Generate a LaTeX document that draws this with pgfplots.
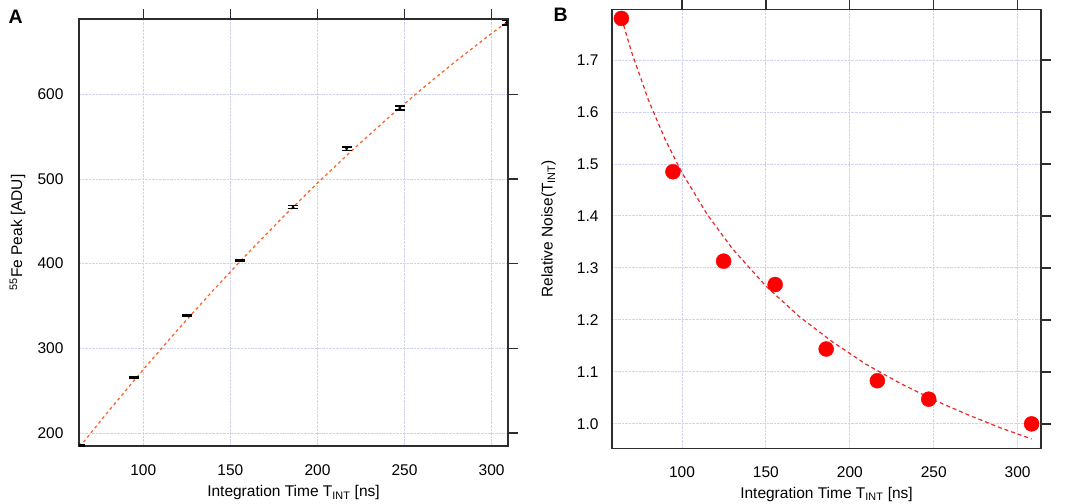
\documentclass[border=0pt]{standalone}
\usepackage{fontspec}
\setmainfont{Liberation Sans}
\usepackage{pgfplots}
\pgfplotsset{compat=1.18}
\usepackage{pgfplotstable}

\definecolor{fitorange}{RGB}{255,100,40}
\definecolor{fitred}{RGB}{235,40,40}
\definecolor{ptred}{RGB}{255,0,0}
\definecolor{gridc}{RGB}{208,208,240}
\definecolor{framec}{RGB}{45,45,45}

\pgfplotstableread{
x y err
63.8 185.5 0.8
94.6 265.3 1.0
125.0 339.0 0.8
155.4 403.5 1.0
186.0 466.7 1.8
216.8 535.8 2.0
247.3 583.8 2.4
308.6 684.7 2.8
}\peakdata

\pgfplotstableread{
x y
63.5 183.7
80 225.7
100 274.9
120 322.4
140 368.2
160 412.3
180 454.6
200 495.2
220 534.0
240 571.1
260 606.5
280 640.1
300 672.0
309 685.7
}\peakfit

\pgfplotstableread{
x y
63.9 1.780
94.6 1.485
124.8 1.313
155.5 1.268
185.9 1.144
216.4 1.083
247.0 1.0475
308.3 1.000
}\noisedata

\pgfplotstableread{
x y
64 1.780
70 1.715
80 1.623
90 1.547
100 1.483
115 1.403
130 1.337
150 1.265
170 1.206
190 1.157
210 1.114
230 1.078
250 1.046
270 1.018
290 0.992
308.3 0.971
}\noisefit

\pgfplotsset{
  panel/.style={
    scale only axis,
    anchor=south west,
    width=429bp,
    axis line style={framec, line width=1.3bp},
    tick style={framec, line width=1.3bp},
    tick align=outside,
    major tick length=10bp,
    xtick pos=upper, xticklabel pos=lower,
    ytick pos=right, yticklabel pos=left,
    grid=major,
    grid style={densely dotted, gridc, line width=0.9bp},
    /pgf/number format/assume math mode=true,
    tick label style={font=\fontsize{15.5bp}{18bp}\selectfont, text=black},
    label style={font=\fontsize{15.5bp}{18bp}\selectfont, text=black},
    xticklabel style={anchor=base, yshift=-19bp},
    xlabel={Integration Time T\textsubscript{INT} [ns]},
    xtick={100,150,200,250,300},
  }
}

\begin{document}
\begin{tikzpicture}
\useasboundingbox (0,0) rectangle (1065bp,-504bp);

% Panel A
\begin{axis}[panel,
  at={(79bp,-446bp)},
  height=427bp,
  xmin=63.1, xmax=309.4,
  ymin=184.6, ymax=689,
  ytick={200,300,400,500,600},
  yticklabel style={anchor=east, xshift=-2bp},
  xlabel style={at={(axis description cs:0.5,0)}, anchor=base, yshift=-50.7bp},
  ylabel={\textsuperscript{55}Fe Peak [ADU]},
  ylabel style={at={(axis description cs:-0.1434,0.5)}, rotate=0, anchor=center},
]
\addplot[fitorange, line width=1.3bp, dash pattern=on 3bp off 3bp] table[x=x,y=y] {\peakfit};
\addplot[black, only marks, mark=*, mark size=1.3bp,
  error bars/.cd, y dir=both, y explicit,
  error bar style={black, solid, line width=1.4bp},
  error mark options={black, mark size=5bp, line width=1.4bp, rotate=90}]
  table[x=x, y=y, y error=err] {\peakdata};
\end{axis}

% Panel B
\begin{axis}[panel,
  at={(612bp,-448.3bp)},
  height=439bp,
  xmin=58.3, xmax=313.9,
  ymin=0.953, ymax=1.7975,
  ytick={1.0,1.1,1.2,1.3,1.4,1.5,1.6,1.7},
  yticklabel style={anchor=east, xshift=0bp,
    /pgf/number format/fixed, /pgf/number format/fixed zerofill,
    /pgf/number format/precision=1},
  xlabel style={at={(axis description cs:0.5,0)}, anchor=base, yshift=-49.7bp},
  ylabel={Relative Noise(T\textsubscript{INT})},
  ylabel style={at={(axis description cs:-0.1478,0.5)}, rotate=0, anchor=center},
]
\addplot[fitred, line width=1.2bp, dash pattern=on 4bp off 3bp] table[x=x,y=y] {\noisefit};
\addplot[only marks, mark=*, mark size=7.5bp, mark options={fill=ptred, draw=ptred}] table[x=x,y=y] {\noisedata};
\end{axis}

\node[font=\fontsize{19.5bp}{22bp}\selectfont\bfseries] at (15.7bp,-16.3bp) {A};
\node[font=\fontsize{19.5bp}{22bp}\selectfont\bfseries] at (560.7bp,-14.7bp) {B};
\end{tikzpicture}
\end{document}
